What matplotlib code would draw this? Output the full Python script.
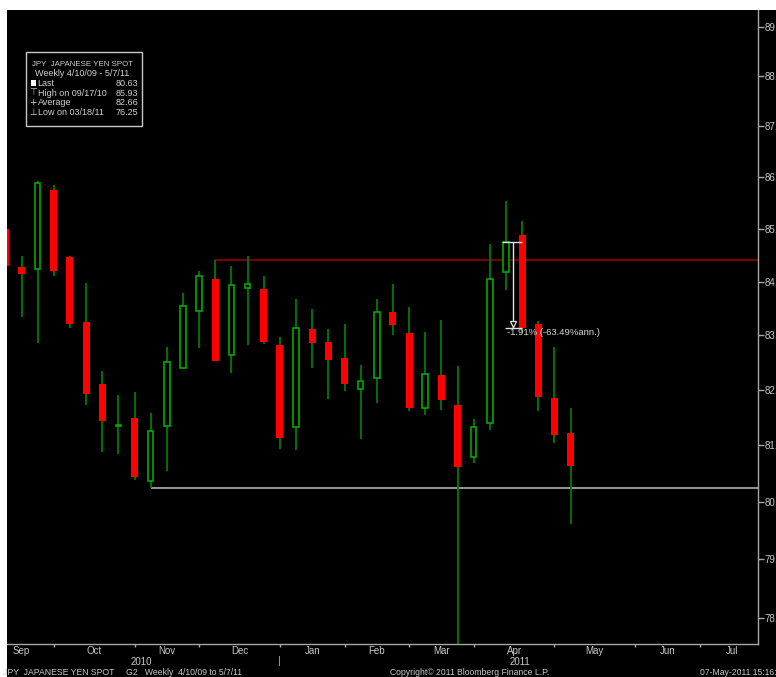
import numpy as np
import pandas as pd
import matplotlib
matplotlib.use('Agg')
import matplotlib.pyplot as plt
import matplotlib.dates as mdates
import matplotlib.transforms as mtransforms
from matplotlib.patches import Rectangle

plt.rcParams['font.family'] = ['Liberation Sans', 'DejaVu Sans']

# weekly JPY spot candles (week ending Friday)
dates = pd.date_range('2010-09-03', periods=36, freq='7D')
opens = [85.00, 84.28, 84.24, 85.76, 84.46, 83.25, 82.10, 81.35, 81.48, 80.36,
         81.35, 82.40, 83.45, 84.05, 82.63, 83.87, 83.86, 82.82, 81.33, 83.11,
         82.87, 82.58, 82.02, 82.21, 83.43, 83.03, 81.67, 82.26, 81.72, 80.79,
         81.40, 84.18, 84.89, 83.20, 81.85, 81.22]
highs = [85.05, 84.48, 85.93, 85.85, 84.48, 83.97, 82.34, 81.91, 81.96, 81.57,
         82.78, 83.79, 84.19, 84.40, 84.30, 84.49, 84.11, 82.96, 83.67, 83.48,
         83.12, 83.21, 82.45, 83.67, 83.96, 83.53, 83.06, 83.28, 82.43, 81.47,
         84.72, 85.53, 85.16, 83.26, 82.78, 81.67]
lows = [84.25, 83.34, 82.86, 84.11, 83.14, 81.72, 80.88, 80.84, 80.38, 80.24,
        80.54, 82.38, 82.76, 82.52, 82.31, 82.81, 82.84, 80.94, 80.92, 82.40,
        81.83, 81.97, 81.11, 81.75, 83.01, 81.61, 81.54, 81.64, 76.25, 80.69,
        81.28, 83.84, 83.03, 81.61, 81.04, 79.62]
closes = [84.30, 84.14, 85.88, 84.20, 83.21, 81.92, 81.44, 81.37, 80.43, 81.25,
          82.50, 83.54, 84.10, 82.52, 83.94, 83.96, 82.87, 81.12, 83.14, 82.86,
          82.55, 82.11, 82.15, 83.43, 83.18, 81.67, 82.29, 81.81, 80.61, 81.33,
          84.05, 84.75, 83.14, 81.86, 81.19, 80.63]

# axis ticks / labels
y_ticks = [78, 79, 80, 81, 82, 83, 84, 85, 86, 87, 88, 89]
month_ticks = ['2010-08-27', '2010-09-24', '2010-10-29', '2010-11-26', '2010-12-31',
               '2011-01-28', '2011-02-25', '2011-03-25', '2011-04-29', '2011-06-03',
               '2011-07-01', '2011-07-29']
month_names = ['Sep', 'Oct', 'Nov', 'Dec', 'Jan', 'Feb', 'Mar', 'Apr', 'May', 'Jun', 'Jul']
years = ['2010', '2011']
year_pos = ['2010-11-01', '2011-04-14']
year_split = '2010-12-31'

# trend lines
res_level, res_start = 84.40, '2010-12-03'
sup_level, sup_start = 80.24, '2010-11-05'

legend_rows = [('Last', '80.63'), ('High on 09/17/10', '85.93'),
               ('Average', '82.66'), ('Low on 03/18/11', '76.25')]

W, H = 776, 677
fig = plt.figure(figsize=(W / 100, H / 100), dpi=100, facecolor='black')

def fx(x):
    return x / W

def fy(y):
    return 1 - y / H

# white strips at left and top edge
fig.patches.append(Rectangle((0, 0), fx(6.7), 1, transform=fig.transFigure,
                             facecolor='white', edgecolor='none', zorder=0))
fig.patches.append(Rectangle((0, fy(10)), 1, 1 - fy(10), transform=fig.transFigure,
                             facecolor='white', edgecolor='none', zorder=0))

ax = fig.add_axes([fx(6.7), fy(644.3), fx(757.7) - fx(6.7), fy(10) - fy(644.3)])
ax.set_facecolor('black')

ax.set_yscale('function', functions=(lambda v: -np.power(np.clip(v, 1e-6, None), -0.5),
                                     lambda u: np.power(np.clip(-u, 1e-6, None), -2.0)))

x = mdates.date2num(dates)
o = np.array(opens); c = np.array(closes)
hi = np.array(highs); lo = np.array(lows)
up = c >= o

ax.vlines(x, lo, hi, color='#007a00', lw=1.3, zorder=2)
ax.bar(x[~up], (o - c)[~up], bottom=c[~up], width=3.0, color='#ff0000',
       linewidth=0, zorder=3)
ax.bar(x[up], np.maximum((c - o)[up], 0.02), bottom=o[up], width=2.4,
       facecolor='black', edgecolor='#00a800', linewidth=1.2, zorder=3)

x0 = mdates.date2num(pd.Timestamp('2010-09-10'))
ax.set_xlim(x0 - 6.42, x0 + 319.1)
ax.set_ylim(77.563, 89.357)

# horizontal lines
ax.hlines(res_level, mdates.date2num(pd.Timestamp(res_start)), x0 + 320,
          color='#7a0000', lw=1.4, zorder=1)
ax.hlines(sup_level, mdates.date2num(pd.Timestamp(sup_start)), x0 + 320,
          color='#c0c0c0', lw=1.1, zorder=1)
ax.plot([x[2], x[3] - 0.5], [highs[2], 85.76], color='#7a0000', lw=1, ls=':', zorder=1)

# percentage change annotation
a0 = x[31]
ax.hlines(closes[31], a0 - 1.7, x[32], color='#e0e0e0', lw=1, zorder=4)
ax.vlines(a0 + 3.2, closes[32], closes[31], color='#e0e0e0', lw=1, zorder=4)
ax.hlines(closes[32], a0 - 0.4, x[32], color='#e0e0e0', lw=1, zorder=4)
ax.plot([a0 + 3.2], [83.21], marker='v', ms=5, mfc='black', mec='#e0e0e0',
        mew=0.9, zorder=5)
ax.text(a0 + 0.4, 83.04, '-1.91% (-63.49%ann.)', color='#d8d8d8', fontsize=6.8,
        va='center', ha='left', zorder=5)

# axes styling
for s in ['top', 'left']:
    ax.spines[s].set_visible(False)
for s in ['right', 'bottom']:
    ax.spines[s].set_color('#a8a8a8')
    ax.spines[s].set_linewidth(1)

ax.yaxis.tick_right()
ax.set_yticks(y_ticks)
ax.set_yticklabels(['%.2f' % v for v in y_ticks])
ax.yaxis.set_minor_locator(matplotlib.ticker.NullLocator())
ax.tick_params(axis='y', colors='#a8a8a8', labelcolor='#c8c8c8', length=4,
               width=1, pad=1, labelsize=7)

mt = mdates.date2num(pd.to_datetime(month_ticks))
ax.set_xticks(mt[1:-1])
ax.tick_params(axis='x', colors='#a8a8a8', length=2, width=1, labelbottom=False)

trans = mtransforms.blended_transform_factory(ax.transData, fig.transFigure)
for i, name in enumerate(month_names):
    ax.text((mt[i] + mt[i + 1]) / 2, fy(651), name, transform=trans, color='#c8c8c8',
            fontsize=7, ha='center', va='center', clip_on=False)
for yr, pos in zip(years, year_pos):
    ax.text(mdates.date2num(pd.Timestamp(pos)), fy(662), yr, transform=trans,
            color='#c8c8c8', fontsize=7, ha='center', va='center', clip_on=False)
ax.text(mdates.date2num(pd.Timestamp(year_split)), fy(661), '|', transform=trans,
        color='#a8a8a8', fontsize=8, ha='center', va='center', clip_on=False)

# footer
fig.text(fx(3), fy(672.5), 'JPY  JAPANESE YEN SPOT     G2   Weekly  4/10/09 to 5/7/11',
         color='#c8c8c8', fontsize=6.2, ha='left', va='center')
fig.text(fx(470), fy(672.5), 'Copyright\u00a9 2011 Bloomberg Finance L.P.',
         color='#c8c8c8', fontsize=6.2, ha='center', va='center')
fig.text(fx(700), fy(672.5), '07-May-2011 15:16:', color='#c8c8c8', fontsize=6.2,
         ha='left', va='center')

# legend box
fig.patches.append(Rectangle((fx(25.7), fy(125.7)), fx(141.7) - fx(25.7), fy(52.3) - fy(125.7),
                             transform=fig.transFigure, facecolor='black',
                             edgecolor='#c8c8c8', linewidth=1, zorder=5))
fig.text(fx(82.5), fy(64), 'JPY  JAPANESE YEN SPOT', color='#d0d0d0', fontsize=5.7,
         ha='center', va='center', zorder=6)
fig.text(fx(82.5), fy(73.5), 'Weekly 4/10/09 - 5/7/11', color='#d0d0d0', fontsize=6.5,
         ha='center', va='center', zorder=6)
marks = ['', '\u22a4', '+', '\u22a5']
for i, (lab, val) in enumerate(legend_rows):
    yy = fy(83.3 + 9.7 * i)
    if i == 0:
        fig.patches.append(Rectangle((fx(30.5), yy - 2.8 / H), fx(5.5), 5.6 / H,
                                     transform=fig.transFigure, facecolor='white',
                                     edgecolor='none', zorder=6))
    else:
        fig.text(fx(33), yy, marks[i], color='#d0d0d0', fontsize=6.5, ha='center',
                 va='center', zorder=6, family=['DejaVu Sans'])
    fig.text(fx(37.5), yy, lab, color='#d0d0d0', fontsize=6.5, ha='left', va='center', zorder=6)
    fig.text(fx(138), yy, val, color='#d0d0d0', fontsize=6.5, ha='right', va='center', zorder=6)

fig.savefig('out.png', dpi=100, facecolor='black')
